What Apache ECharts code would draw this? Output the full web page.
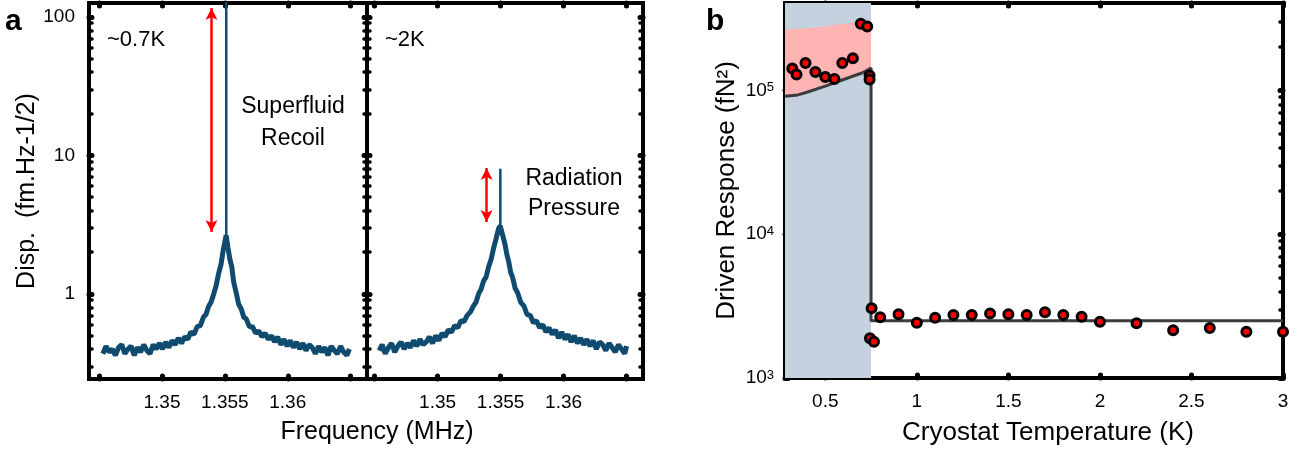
<!DOCTYPE html>
<html><head><meta charset="utf-8">
<script src="https://cdn.jsdelivr.net/npm/echarts@6/dist/echarts.min.js"></script>
<style>html,body{margin:0;padding:0;background:#fff}#c{width:1307px;height:454px}</style>
</head><body><div id="c"></div>
<script>
// ---------- Panel a, left (~0.7K) ----------
const FREQ_A = [1.34530,1.34555,1.34580,1.34605,1.34630,1.34655,1.34680,1.34705,1.34730,1.34755,1.34780,1.34805,1.34830,1.34855,1.34880,1.34905,1.34930,1.34955,1.34980,1.35005,1.35030,1.35055,1.35080,1.35105,1.35130,1.35155,1.35180,1.35205,1.35230,1.35255,1.35280,1.35305,1.35330,1.35350,1.35370,1.35390,1.35410,1.35430,1.35450,1.35470,1.35485,1.35500,1.35510,1.35525,1.35540,1.35555,1.35570,1.35590,1.35610,1.35630,1.35650,1.35670,1.35695,1.35720,1.35745,1.35770,1.35795,1.35820,1.35845,1.35870,1.35895,1.35920,1.35945,1.35970,1.35995,1.36020,1.36045,1.36070,1.36095,1.36120,1.36145,1.36170,1.36195,1.36220,1.36245,1.36270,1.36295,1.36320,1.36345,1.36370,1.36395,1.36420,1.36445,1.36470,1.36490];
const DISP_A = [0.37,0.42,0.38,0.40,0.36,0.41,0.43,0.37,0.40,0.42,0.36,0.41,0.38,0.43,0.39,0.37,0.43,0.40,0.44,0.40,0.45,0.41,0.46,0.43,0.48,0.44,0.49,0.47,0.53,0.51,0.58,0.59,0.68,0.71,0.81,0.87,0.99,1.14,1.40,1.64,2.02,2.38,2.65,2.15,1.78,1.57,1.22,1.02,0.84,0.78,0.68,0.66,0.58,0.58,0.52,0.54,0.49,0.52,0.47,0.50,0.45,0.49,0.43,0.47,0.42,0.46,0.41,0.45,0.40,0.44,0.39,0.43,0.41,0.37,0.42,0.38,0.41,0.36,0.42,0.39,0.37,0.42,0.38,0.36,0.40];
const SPIKE_A_FREQ = 1.35511;
const SPIKE_A = [2.65, 300];
const ARROW_A_FREQ = 1.35394;
const ARROW_A = [116, 2.8];

// ---------- Panel a, right (~2K) ----------
const FREQ_B = [1.34537,1.34560,1.34585,1.34610,1.34635,1.34660,1.34685,1.34710,1.34735,1.34760,1.34785,1.34810,1.34835,1.34860,1.34885,1.34910,1.34935,1.34960,1.34985,1.35010,1.35035,1.35060,1.35085,1.35110,1.35135,1.35160,1.35185,1.35210,1.35235,1.35260,1.35285,1.35305,1.35325,1.35345,1.35365,1.35385,1.35405,1.35425,1.35445,1.35465,1.35485,1.35497,1.35505,1.35520,1.35535,1.35550,1.35565,1.35580,1.35595,1.35615,1.35635,1.35660,1.35685,1.35710,1.35735,1.35760,1.35785,1.35810,1.35835,1.35860,1.35885,1.35910,1.35935,1.35960,1.35985,1.36010,1.36035,1.36060,1.36085,1.36110,1.36135,1.36160,1.36185,1.36210,1.36235,1.36260,1.36285,1.36310,1.36335,1.36360,1.36385,1.36410,1.36435,1.36460,1.36485,1.36500];
const DISP_B = [0.39,0.43,0.37,0.41,0.44,0.38,0.42,0.45,0.40,0.44,0.41,0.46,0.42,0.47,0.43,0.45,0.49,0.44,0.50,0.46,0.52,0.49,0.55,0.53,0.59,0.57,0.64,0.63,0.70,0.74,0.82,0.87,1.00,1.08,1.24,1.32,1.57,1.78,2.15,2.52,2.98,3.10,3.00,2.58,2.28,1.92,1.70,1.43,1.32,1.10,1.02,0.87,0.82,0.71,0.70,0.62,0.64,0.57,0.60,0.53,0.57,0.51,0.55,0.48,0.53,0.47,0.51,0.45,0.50,0.44,0.48,0.43,0.47,0.42,0.46,0.40,0.45,0.43,0.39,0.44,0.41,0.38,0.43,0.40,0.37,0.42];
const SPIKE_B_FREQ = 1.35498;
const SPIKE_B = [3.1, 8.0];
const ARROW_B_FREQ = 1.35389;
const ARROW_B = [8.1, 3.3];

// ---------- Panel a axes ----------
const FREQ_TICKS = [1.345, 1.35, 1.355, 1.36, 1.365];
const FREQ_LABELS = [1.35, 1.355, 1.36];
const DISP_MAJOR = [1, 10, 100];
const DISP_MINOR = [0.3,0.4,0.5,0.6,0.7,0.8,0.9,2,3,4,5,6,7,8,9,20,30,40,50,60,70,80,90];

// ---------- Panel b ----------
const TEMP_K = [0.32,0.343,0.392,0.446,0.5,0.55,0.593,0.651,0.694,0.729,0.742,0.742,0.753,0.744,0.766,0.8,0.9,1.0,1.1,1.2,1.3,1.4,1.5,1.6,1.7,1.8,1.9,2.0,2.2,2.4,2.6,2.8,3.0];
const RESPONSE = [1.42e5,1.29e5,1.55e5,1.34e5,1.24e5,1.20e5,1.55e5,1.67e5,2.90e5,2.78e5,1.27e5,1.19e5,3.05e3,1.89e3,1.79e3,2.64e3,2.78e3,2.42e3,2.62e3,2.74e3,2.74e3,2.81e3,2.78e3,2.74e3,2.86e3,2.74e3,2.67e3,2.46e3,2.40e3,2.15e3,2.23e3,2.10e3,2.10e3];
const MODEL_T = [0.28,0.35,0.4,0.5,0.6,0.7,0.75,0.75,3.0];
const MODEL_Y = [0.91e5,0.93e5,0.97e5,1.07e5,1.19e5,1.32e5,1.43e5,2.5e3,2.5e3];
const BAND_T = [0.28,0.4,0.5,0.6,0.75];
const BAND_UPPER = [2.65e5,2.70e5,2.78e5,2.90e5,3.06e5];
const BAND_LOWER = [0.91e5,0.97e5,1.07e5,1.19e5,1.43e5];
const SUPERFLUID_RANGE = [0.28, 0.75];
const TEMP_TICKS = [0.5, 1, 1.5, 2, 2.5, 3];
const RESP_MAJOR = [1e3, 1e4, 1e5];
const RESP_MINOR = [2e3,3e3,4e3,5e3,6e3,7e3,8e3,9e3,2e4,3e4,4e4,5e4,6e4,7e4,8e4,9e4,2e5,3e5];

const FONT = '"Liberation Sans", Arial, sans-serif';
const BLUE = '#0f4a6f';

const pairs = (xs, ys) => xs.map((x, i) => [x, ys[i]]);

function xAx(grid, pos, min, max, ticks, labels) {
  return {
    type: 'value', gridIndex: grid, position: pos, min, max,
    axisLine: {show: false}, splitLine: {show: false},
    axisTick: {show: true, inside: true, length: 3, customValues: ticks,
      lineStyle: {color: '#000', width: 5, cap: 'round'}},
    axisLabel: labels ? {show: true, customValues: labels, color: '#000', fontSize: 19,
      fontFamily: FONT, margin: 14} : {show: false}
  };
}
function yAx(grid, pos, min, max, ticks, major, labelOpt) {
  return {
    type: 'log', gridIndex: grid, position: pos, min, max, logBase: 10,
    axisLine: {show: false}, splitLine: {show: false}, minorTick: {show: false},
    axisTick: {show: true, inside: true, length: major ? 3 : 3, customValues: ticks,
      lineStyle: {color: '#000', width: major ? 5 : 3.5, cap: 'round'}},
    axisLabel: labelOpt ? Object.assign({show: true, customValues: ticks}, labelOpt) : {show: false}
  };
}

const xAxis = [
  xAx(0, 'bottom', 1.3442, 1.3663, FREQ_TICKS, FREQ_LABELS),
  xAx(0, 'top', 1.3442, 1.3663, FREQ_TICKS, null),
  xAx(1, 'bottom', 1.3444, 1.3663, FREQ_TICKS, FREQ_LABELS),
  xAx(1, 'top', 1.3444, 1.3663, FREQ_TICKS, null),
  xAx(2, 'bottom', 0.28, 3, TEMP_TICKS, TEMP_TICKS),
  xAx(2, 'top', 0.28, 3, TEMP_TICKS, null)
];
xAxis[4].name = 'Cryostat Temperature (K)';
xAxis[4].nameLocation = 'middle';
xAxis[4].nameGap = 42;
xAxis[4].nameTextStyle = {fontSize: 26, color: '#000', fontFamily: FONT, padding: [0, 0, 0, 28]};

const yMinA = 0.243, yMaxA = 126, yMinB = 1000, yMaxB = 4.05e5;
const yAxis = [
  yAx(0, 'left', yMinA, yMaxA, DISP_MAJOR, true, {color: '#000', fontSize: 19, fontFamily: FONT, margin: 14}),
  yAx(0, 'left', yMinA, yMaxA, DISP_MINOR, false, null),
  yAx(0, 'right', yMinA, yMaxA, DISP_MAJOR, true, null),
  yAx(0, 'right', yMinA, yMaxA, DISP_MINOR, false, null),
  yAx(1, 'left', yMinA, yMaxA, DISP_MAJOR, true, null),
  yAx(1, 'left', yMinA, yMaxA, DISP_MINOR, false, null),
  yAx(1, 'right', yMinA, yMaxA, DISP_MAJOR, true, null),
  yAx(1, 'right', yMinA, yMaxA, DISP_MINOR, false, null),
  yAx(2, 'left', yMinB, yMaxB, RESP_MAJOR, true, {
    color: '#000', fontFamily: FONT, margin: 11,
    formatter: v => '{n|10}{s|' + Math.round(Math.log10(v)) + '}',
    rich: {n: {fontSize: 19, fontFamily: FONT, color: '#000'},
           s: {fontSize: 13, fontFamily: FONT, color: '#000', verticalAlign: 'top'}}
  }),
  yAx(2, 'left', yMinB, yMaxB, RESP_MINOR, false, null),
  yAx(2, 'right', yMinB, yMaxB, RESP_MAJOR, true, null),
  yAx(2, 'right', yMinB, yMaxB, RESP_MINOR, false, null)
];
yAxis[0].name = 'Disp.  (fm.Hz-1/2)';
yAxis[0].nameLocation = 'middle';
yAxis[0].nameGap = 44;
yAxis[0].nameTextStyle = {fontSize: 25, color: '#000', fontFamily: FONT};
yAxis[8].name = 'Driven Response (fN²)';
yAxis[8].nameLocation = 'middle';
yAxis[8].nameGap = 45;
yAxis[8].nameTextStyle = {fontSize: 26, color: '#000', fontFamily: FONT};

const gridStyle = {show: true, borderColor: '#000', borderWidth: 4, backgroundColor: 'transparent', containLabel: false};

const arrowLine = (f, ys) => ({
  silent: true, symbol: ['arrow', 'arrow'], symbolSize: [9, 12], animation: false,
  label: {show: false}, emphasis: {disabled: true},
  lineStyle: {color: '#ff0000', width: 2.5, type: 'solid'},
  data: [[{coord: [f, ys[0]]}, {coord: [f, ys[1]]}]]
});

const option = {
  animation: false,
  backgroundColor: '#fff',
  textStyle: {fontFamily: FONT},
  grid: [
    Object.assign({left: 89, top: 3, width: 278, height: 376}, gridStyle),
    Object.assign({left: 367, top: 3, width: 276, height: 376}, gridStyle),
    Object.assign({left: 785, top: 3, width: 498, height: 375}, gridStyle)
  ],
  xAxis, yAxis,
  series: [
    {type: 'line', name: '~0.7K', xAxisIndex: 0, yAxisIndex: 0, data: pairs(FREQ_A, DISP_A),
     showSymbol: false, lineStyle: {color: BLUE, width: 5}, z: 3,
     markLine: arrowLine(ARROW_A_FREQ, ARROW_A)},
    {type: 'line', name: 'spikeA', xAxisIndex: 0, yAxisIndex: 0,
     data: SPIKE_A.map(v => [SPIKE_A_FREQ, v]), showSymbol: false,
     lineStyle: {color: BLUE, width: 2.5}, z: 3},
    {type: 'line', name: '~2K', xAxisIndex: 2, yAxisIndex: 4, data: pairs(FREQ_B, DISP_B),
     showSymbol: false, lineStyle: {color: BLUE, width: 5}, z: 3,
     markLine: arrowLine(ARROW_B_FREQ, ARROW_B)},
    {type: 'line', name: 'spikeB', xAxisIndex: 2, yAxisIndex: 4,
     data: SPIKE_B.map(v => [SPIKE_B_FREQ, v]), showSymbol: false,
     lineStyle: {color: BLUE, width: 2.5}, z: 3},
    {type: 'line', name: 'shade', xAxisIndex: 4, yAxisIndex: 8, data: [], z: 1,
     markArea: {silent: true, itemStyle: {color: '#c3d2de'},
       data: [[{xAxis: SUPERFLUID_RANGE[0]}, {xAxis: SUPERFLUID_RANGE[1]}]]}},
    {type: 'custom', name: 'band', xAxisIndex: 4, yAxisIndex: 8, z: 2, silent: true,
     data: [[BAND_T[0], BAND_LOWER[0]]],
     renderItem: (params, api) => {
       const pts = [];
       for (let i = 0; i < BAND_T.length; i++) pts.push(api.coord([BAND_T[i], BAND_UPPER[i]]));
       for (let i = BAND_T.length - 1; i >= 0; i--) pts.push(api.coord([BAND_T[i], BAND_LOWER[i]]));
       return {type: 'polygon', shape: {points: pts}, style: {fill: '#ffb4b4'}};
     }},
    {type: 'line', name: 'model', xAxisIndex: 4, yAxisIndex: 8, data: pairs(MODEL_T, MODEL_Y),
     showSymbol: false, lineStyle: {color: '#3c3c3c', width: 3}, z: 3},
    {type: 'scatter', name: 'data', xAxisIndex: 4, yAxisIndex: 8, data: pairs(TEMP_K, RESPONSE),
     symbol: 'circle', symbolSize: 9, z: 4,
     itemStyle: {color: '#ff0000', borderColor: '#000', borderWidth: 3, opacity: 1}}
  ],
  graphic: [
    {type: 'text', x: 5, y: 22, style: {text: 'a', font: 'bold 30px ' + FONT, fill: '#000', textAlign: 'left', textVerticalAlign: 'middle'}},
    {type: 'text', x: 706, y: 22, style: {text: 'b', font: 'bold 30px ' + FONT, fill: '#000', textAlign: 'left', textVerticalAlign: 'middle'}},
    {type: 'text', x: 107, y: 40, style: {text: '~0.7K', font: '22px ' + FONT, fill: '#000', textAlign: 'left', textVerticalAlign: 'middle'}},
    {type: 'text', x: 385, y: 40, style: {text: '~2K', font: '22px ' + FONT, fill: '#000', textAlign: 'left', textVerticalAlign: 'middle'}},
    {type: 'text', x: 293, y: 123, style: {text: 'Superfluid\nRecoil', font: '23px ' + FONT, lineHeight: 32, fill: '#000', textAlign: 'center', textVerticalAlign: 'middle'}},
    {type: 'text', x: 574, y: 194, style: {text: 'Radiation\nPressure', font: '23px ' + FONT, lineHeight: 30, fill: '#000', textAlign: 'center', textVerticalAlign: 'middle'}},
    {type: 'text', x: 377, y: 432, style: {text: 'Frequency (MHz)', font: '25px ' + FONT, fill: '#000', textAlign: 'center', textVerticalAlign: 'middle'}}
  ]
};

const chart = echarts.init(document.getElementById('c'), null, {renderer: 'canvas'});
chart.setOption(option);
</script>
</body></html>
